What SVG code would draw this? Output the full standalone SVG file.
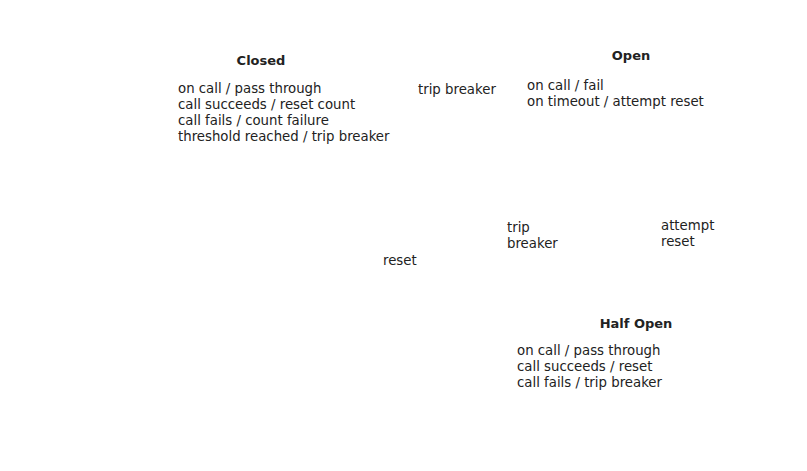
<svg xmlns="http://www.w3.org/2000/svg" width="807" height="471" viewBox="0 0 807 471">
<style>
text{font-family:"DejaVu Sans",Verdana,sans-serif;font-size:13.3px;fill:#222}
.t{font-size:13px;font-weight:bold;text-anchor:middle}
</style>
<rect width="807" height="471" fill="#fff"/>
<g id="connectors">
<text x="418" y="94">trip breaker</text>
<text x="507" y="232">trip</text>
<text x="507" y="248">breaker</text>
<text x="661" y="230">attempt</text>
<text x="661" y="246">reset</text>
<text x="383" y="265">reset</text>
</g>
<g id="closed">
<text class="t" x="261" y="65">Closed</text>
<text x="178" y="93">on call / pass through</text>
<text x="178" y="109">call succeeds / reset count</text>
<text x="178" y="125">call fails / count failure</text>
<text x="178" y="141">threshold reached / trip breaker</text>
</g>
<g id="open">
<text class="t" x="631" y="60">Open</text>
<text x="527" y="90">on call / fail</text>
<text x="527" y="106">on timeout / attempt reset</text>
</g>
<g id="halfopen">
<text class="t" x="636" y="328">Half Open</text>
<text x="517" y="355">on call / pass through</text>
<text x="517" y="371">call succeeds / reset</text>
<text x="517" y="387">call fails / trip breaker</text>
</g>
</svg>
